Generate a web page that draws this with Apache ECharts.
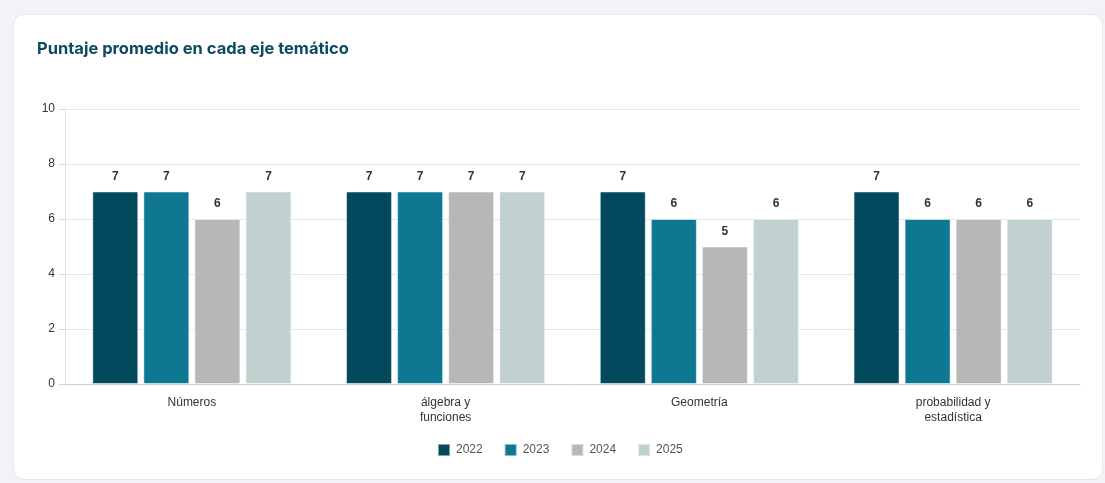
<!DOCTYPE html>
<html><head><meta charset="utf-8">
<script src="https://cdn.jsdelivr.net/npm/echarts@6/dist/echarts.min.js"></script>
<style>
html,body{margin:0;padding:0;background:#f2f3f6;width:1105px;height:483px;overflow:hidden;}
#card{position:absolute;left:13px;top:14px;width:1090px;height:466px;background:#fff;border-radius:11px;border:1px solid #e6e7eb;box-sizing:border-box;}
#chart{position:absolute;left:0;top:0;width:1105px;height:483px;}
</style></head>
<body><div id="card"></div><div id="chart"></div>
<script>
const categories = ['Números', 'álgebra y\nfunciones', 'Geometría', 'probabilidad y\nestadística'];
const years = ['2022', '2023', '2024', '2025'];
const v2022 = [7, 7, 7, 7];
const v2023 = [7, 7, 6, 6];
const v2024 = [6, 7, 5, 6];
const v2025 = [7, 7, 6, 6];
const yTicks = [0, 2, 4, 6, 8, 10];
const colors = ['#03495e', '#0e7893', '#b7b7b9', '#c0d1d0'];
const values = [v2022, v2023, v2024, v2025];

const chart = echarts.init(document.getElementById('chart'));
chart.setOption({
  animation: false,
  title: {
    text: 'Puntaje promedio en cada eje temático',
    left: 32, top: 36,
    textStyle: {fontFamily: 'Inter', fontWeight: 'bold', fontSize: 16.5, color: '#0b4a5f'}
  },
  legend: {
    data: years, top: 438, left: 432,
    itemWidth: 12, itemHeight: 12, itemGap: 21,
    icon: 'rect',
    textStyle: {fontFamily: 'Liberation Sans', fontSize: 12, color: '#555', padding: [0, 0, 0, 1]}
  },
  grid: {left: 65, right: 25, top: 109, bottom: 99},
  xAxis: {
    type: 'category', data: categories,
    axisLine: {lineStyle: {color: '#cfcfcf'}},
    axisTick: {show: false},
    axisLabel: {fontFamily: 'Liberation Sans', fontSize: 12, color: '#333', margin: 11, lineHeight: 15}
  },
  yAxis: {
    type: 'value', min: yTicks[0], max: yTicks[yTicks.length - 1], interval: 2,
    axisLine: {show: true, lineStyle: {color: '#e2e2e2'}},
    axisTick: {show: true, length: 6, lineStyle: {color: '#d6d6d6'}},
    splitLine: {lineStyle: {color: '#e6e6e6'}},
    axisLabel: {fontFamily: 'Liberation Sans', fontSize: 12, color: '#333', margin: 10}
  },
  series: years.map((y, i) => ({
    name: y, type: 'bar', data: values[i],
    barWidth: 46, barGap: '11%',
    itemStyle: {color: colors[i], borderColor: 'rgba(255,255,255,0.5)', borderWidth: 1},
    label: {show: true, position: 'top', distance: 9, fontFamily: 'Liberation Sans', fontWeight: 'bold', fontSize: 12, color: '#333'}
  }))
});
</script></body></html>
